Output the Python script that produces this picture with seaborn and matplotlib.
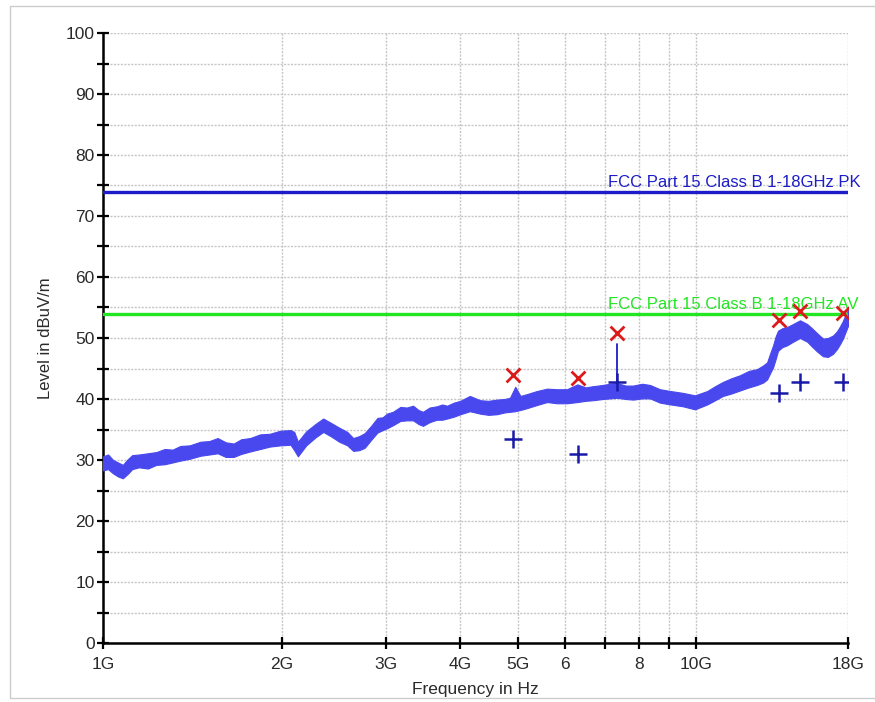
"""EMI radiated emission scan 1-18 GHz with FCC Part 15 Class B limits."""

import matplotlib

matplotlib.use("Agg")

import matplotlib.pyplot as plt
from matplotlib.patches import Rectangle
from matplotlib.ticker import FixedLocator, MultipleLocator, NullFormatter
import numpy as np
import pandas as pd
import seaborn as sns


# scan trace (GHz) with upper/lower envelope of the noisy band (dBuV/m)
TRACE_FREQ_GHZ = [
    1.00, 1.02, 1.04, 1.06, 1.08, 1.10, 1.12, 1.15, 1.19, 1.23, 1.27, 1.31, 1.35, 1.40,
    1.46, 1.51, 1.56, 1.61, 1.66, 1.71, 1.77, 1.84, 1.91, 1.99, 2.07, 2.10, 2.13, 2.20,
    2.28, 2.35, 2.42, 2.50, 2.58, 2.64, 2.70, 2.76, 2.83, 2.90, 2.96, 3.01, 3.08, 3.17,
    3.25, 3.33, 3.40, 3.46, 3.55, 3.65, 3.73, 3.80, 3.90, 4.00, 4.15, 4.32, 4.46, 4.61,
    4.75, 4.85, 4.95, 5.05, 5.18, 5.38, 5.60, 5.82, 6.05, 6.30, 6.50, 6.69, 6.95, 7.15,
    7.35, 7.60, 7.82, 8.10, 8.35, 8.68, 9.05, 9.49, 9.94, 10.42, 10.75, 11.08, 11.45,
    11.84, 12.25, 12.65, 12.95, 13.15, 13.30, 13.46, 13.60, 13.72, 13.95, 14.21, 14.55,
    14.94, 15.36, 15.65, 15.96, 16.34, 16.65, 16.98, 17.25, 17.45, 17.65, 17.80, 18.00,
]
TRACE_HI = [
    30.6, 30.9, 30.0, 29.6, 29.2, 30.1, 30.8, 30.9, 31.1, 31.3, 31.8, 31.7, 32.3, 32.4,
    33.0, 33.1, 33.6, 32.9, 32.7, 33.4, 33.6, 34.2, 34.3, 34.8, 34.9, 34.6, 33.0, 34.7,
    35.9, 36.8, 36.1, 35.3, 34.6, 33.6, 33.9, 34.4, 35.6, 36.9, 37.0, 37.6, 37.9, 38.7,
    38.6, 38.9, 38.2, 37.9, 38.6, 38.8, 39.1, 38.9, 39.4, 39.7, 40.5, 39.8, 39.7, 39.9,
    40.0, 40.2, 42.0, 40.5, 40.8, 41.3, 41.7, 41.6, 41.6, 42.4, 41.9, 42.1, 42.3, 42.5,
    42.6, 42.2, 42.2, 42.5, 42.3, 41.6, 41.3, 41.0, 40.6, 41.3, 42.1, 42.8, 43.4,
    43.9, 44.6, 44.9, 45.5, 46.0, 47.4, 48.8, 50.3, 51.2, 51.6, 51.8, 52.3,
    52.9, 52.3, 51.6, 50.8, 49.9, 50.0, 50.4, 51.1, 51.9, 52.8, 53.7, 54.6,
]
TRACE_LO = [
    28.3, 28.5, 27.8, 27.3, 27.0, 27.7, 28.5, 28.8, 28.6, 29.2, 29.3, 29.6, 29.9, 30.2,
    30.7, 30.9, 31.1, 30.5, 30.5, 31.0, 31.4, 31.8, 32.2, 32.4, 32.5, 31.6, 30.6, 32.4,
    33.7, 34.6, 33.9, 33.0, 32.4, 31.5, 31.6, 32.0, 33.3, 34.5, 34.9, 35.2, 35.7, 36.4,
    36.5, 36.5, 35.9, 35.6, 36.2, 36.6, 36.6, 36.8, 37.1, 37.5, 38.0, 37.6, 37.4, 37.5,
    37.8, 37.9, 38.0, 38.2, 38.5, 39.0, 39.5, 39.3, 39.3, 39.5, 39.7, 39.8, 40.0, 40.1,
    40.2, 40.0, 39.9, 40.1, 40.1, 39.4, 39.1, 38.8, 38.3, 39.1, 39.8, 40.5, 40.9,
    41.4, 41.9, 42.3, 42.7, 43.2, 44.2, 45.2, 46.6, 47.9, 48.5, 48.8, 49.4,
    50.0, 49.4, 48.6, 47.8, 47.0, 46.9, 47.4, 48.2, 49.0, 49.9, 50.8, 52.0,
]

# final measurement points
PEAK_FREQ_GHZ = [4.91, 6.31, 7.35, 13.77, 14.94, 17.65]
PEAK_LEVEL = [43.9, 43.4, 50.8, 52.9, 54.4, 54.1]
AVG_FREQ_GHZ = [4.91, 6.31, 7.35, 13.77, 14.94, 17.65]
AVG_LEVEL = [33.4, 31.0, 42.8, 41.0, 42.8, 42.8]

# limits
LIMIT_PK = 74.0
LIMIT_AV = 54.0
LIMIT_PK_LABEL = "FCC Part 15 Class B 1-18GHz PK"
LIMIT_AV_LABEL = "FCC Part 15 Class B 1-18GHz AV"

X_TICKS_GHZ = [1, 2, 3, 4, 5, 6, 7, 8, 9, 10, 18]
X_TICK_LABELS = ["1G", "2G", "3G", "4G", "5G", "6", "", "8", "", "10G", "18G"]

TRACE_COLOR = "#4848ee"
PK_COLOR = "#1c1cc8"
AV_COLOR = "#22e622"
PEAK_COLOR = "#dd1a1a"
AVG_COLOR = "#1a1aa8"


def main() -> None:
    sns.set_theme(style="white")
    plt.rcParams["font.family"] = ["Liberation Sans Narrow", "Liberation Sans", "DejaVu Sans"]

    figure = plt.figure(figsize=(8.75, 7.02), dpi=100)
    axis = figure.add_axes([103 / 875, 1 - 643 / 702, 745 / 875, 610 / 702])

    hz = 1e9
    freq = np.array(TRACE_FREQ_GHZ) * hz
    axis.fill_between(freq, TRACE_LO, TRACE_HI, color=TRACE_COLOR, linewidth=0.8, zorder=3)

    limits = pd.DataFrame({
        "freq": [1 * hz, 18 * hz, 1 * hz, 18 * hz],
        "level": [LIMIT_PK, LIMIT_PK, LIMIT_AV, LIMIT_AV],
        "limit": ["PK", "PK", "AV", "AV"],
    })
    sns.lineplot(data=limits, x="freq", y="level", hue="limit", palette={"PK": PK_COLOR, "AV": AV_COLOR},
                 linewidth=2.4, legend=False, ax=axis, zorder=4)
    axis.text(7.1 * hz, LIMIT_PK + 0.2, LIMIT_PK_LABEL, color=PK_COLOR, fontsize=12, ha="left", va="bottom")
    axis.text(7.1 * hz, LIMIT_AV + 0.2, LIMIT_AV_LABEL, color=AV_COLOR, fontsize=12, ha="left", va="bottom")

    # marker stem at the 7.35 GHz point
    axis.plot([PEAK_FREQ_GHZ[2] * hz] * 2, [AVG_LEVEL[2], 49.0], color=PK_COLOR, linewidth=1.3, zorder=5)

    sns.scatterplot(x=np.array(PEAK_FREQ_GHZ) * hz, y=PEAK_LEVEL, marker="x", s=100, color=PEAK_COLOR,
                    linewidth=2, ax=axis, zorder=6)
    sns.scatterplot(x=np.array(AVG_FREQ_GHZ) * hz, y=AVG_LEVEL, marker="+", s=150, color=AVG_COLOR,
                    linewidth=1.8, ax=axis, zorder=6)

    axis.set_xscale("log")
    axis.set_xlim(1 * hz, 18 * hz)
    axis.set_ylim(0, 100)
    axis.xaxis.set_major_locator(FixedLocator([t * hz for t in X_TICKS_GHZ]))
    axis.xaxis.set_minor_locator(FixedLocator([]))
    axis.xaxis.set_minor_formatter(NullFormatter())
    axis.set_xticklabels(X_TICK_LABELS)
    axis.yaxis.set_major_locator(MultipleLocator(10))
    axis.yaxis.set_minor_locator(MultipleLocator(5))

    axis.grid(True, which="both", color="#c6c6c6", linestyle=(0, (1.5, 1)), linewidth=1.0)
    axis.tick_params(axis="both", which="both", direction="inout", length=8, width=1.6, color="black",
                     labelsize=12.5, labelcolor="#2a2a2a", pad=2, left=True, bottom=True)
    axis.tick_params(axis="x", pad=6)

    for side in ["top", "right"]:
        axis.spines[side].set_visible(False)
    for side in ["left", "bottom"]:
        axis.spines[side].set_color("black")
        axis.spines[side].set_linewidth(1.8)

    axis.set_xlabel("Frequency in Hz", fontsize=12.5, color="#2a2a2a", labelpad=7)
    axis.set_ylabel("Level in dBuV/m", fontsize=12, color="#2a2a2a", labelpad=9)

    figure.patches.append(Rectangle((10 / 875, 4 / 702), 870 / 875, 692 / 702, transform=figure.transFigure,
                                    fill=False, edgecolor="#cccccc", linewidth=1))

    figure.savefig("out.png", dpi=100)
    plt.close(figure)


if __name__ == "__main__":
    main()
